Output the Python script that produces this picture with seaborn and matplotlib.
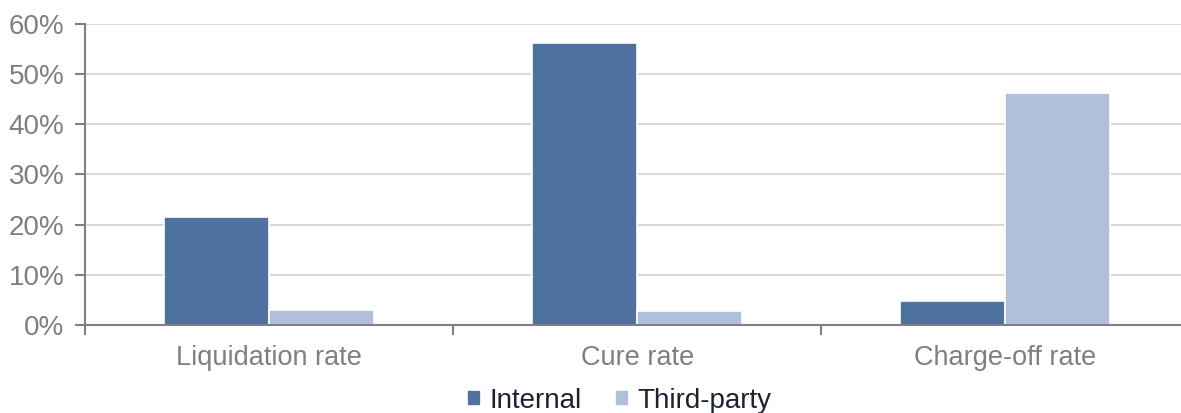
import matplotlib
matplotlib.use("Agg")
import matplotlib.pyplot as plt
import seaborn as sns
import pandas as pd
from matplotlib.ticker import PercentFormatter, FixedLocator

# Values
categories = ["Liquidation rate", "Cure rate", "Charge-off rate"]
internal = [0.215, 0.562, 0.048]
third_party = [0.030, 0.028, 0.462]
series_names = ["Internal", "Third-party"]
colors = ["#4F71A0", "#B0BFDA"]

df = pd.DataFrame({
    "category": categories * 2,
    "value": internal + third_party,
    "series": [series_names[0]] * 3 + [series_names[1]] * 3,
})

sns.set_style("white")
plt.rcParams["font.family"] = ["Liberation Sans", "DejaVu Sans"]

fig = plt.figure(figsize=(11.81, 4.13), dpi=100)
ax = fig.add_axes([0.072, 0.213, 0.935, 0.729])

sns.barplot(data=df, x="category", y="value", hue="series", order=categories,
            hue_order=series_names, palette=colors, width=0.57, saturation=1,
            edgecolor="white", linewidth=1.2, ax=ax)

ax.set_xlim(-0.5, 2.5)
ax.set_ylim(0, 0.6)
ax.set_yticks([0, 0.1, 0.2, 0.3, 0.4, 0.5, 0.6])
ax.yaxis.set_major_formatter(PercentFormatter(1.0, decimals=0))
ax.grid(axis="y", color="#D9D9D9", linewidth=1.5)
ax.set_axisbelow(True)

for side in ["top", "right"]:
    ax.spines[side].set_visible(False)
for side in ["left", "bottom"]:
    ax.spines[side].set_color("#808080")
    ax.spines[side].set_linewidth(1.5)

ax.xaxis.set_minor_locator(FixedLocator([-0.5, 0.5, 1.5, 2.5]))
ax.tick_params(axis="x", which="major", bottom=True, length=0, pad=14.5,
               labelsize=19.5, labelcolor="#7F7F7F")
ax.tick_params(axis="x", which="minor", bottom=True, length=7, width=1.5,
               color="#808080", direction="out")
ax.tick_params(axis="y", left=True, length=7, width=1.5, color="#808080", labelsize=20,
               labelcolor="#7F7F7F", direction="out", pad=8)
ax.set_xlabel("")
ax.set_ylabel("")

ax.legend(loc="upper center", bbox_to_anchor=(0.484, -0.172), ncol=2, frameon=False,
          fontsize=20, handlelength=0.5, handleheight=0.5, handletextpad=0.3,
          columnspacing=1.2, labelcolor="#1B2333", borderaxespad=0)

fig.savefig("out.png", dpi=100)
